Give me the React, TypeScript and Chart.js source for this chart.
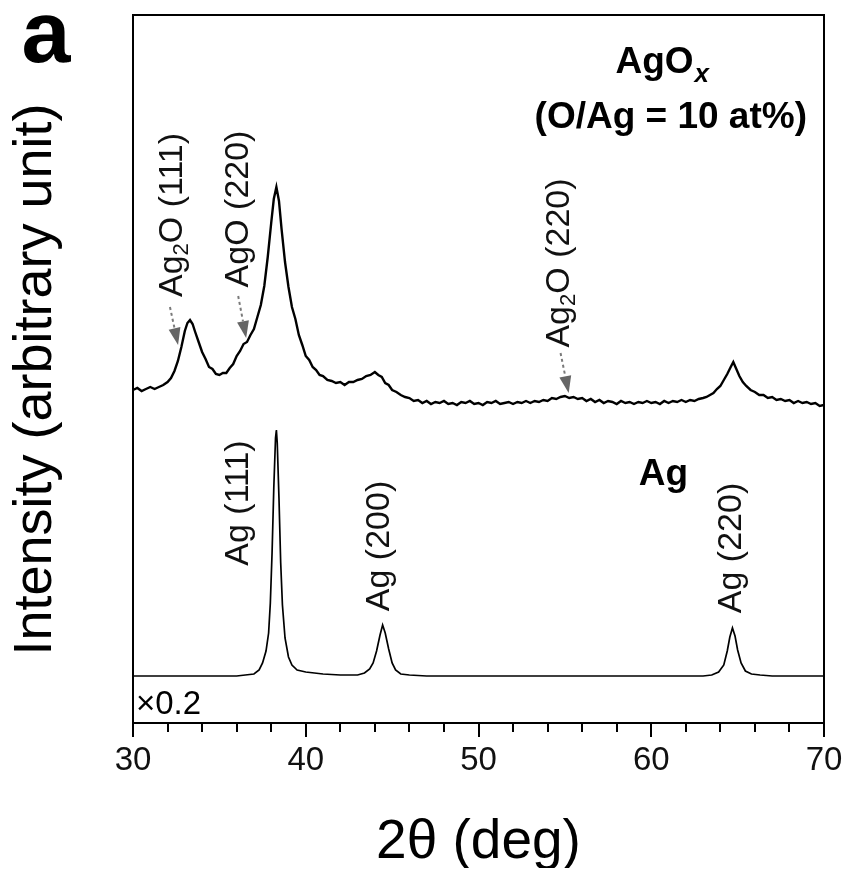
import React, { useEffect, useRef } from 'react';
import { Chart, registerables } from 'chart.js';

Chart.register(...registerables);

const FONT = '"Liberation Sans", Arial, Helvetica, sans-serif';

// ---- Data (2θ in degrees, intensity in arbitrary units, stacked offsets) ----
const agoxTheta = [
  30.0, 30.25, 30.5, 30.75, 31.0, 31.25, 31.5, 31.75, 32.0, 32.2,
  32.4, 32.6, 32.8, 33.0, 33.15, 33.3, 33.45, 33.6, 33.8, 34.0,
  34.2, 34.4, 34.6, 34.8, 35.0, 35.2, 35.4, 35.6, 35.8, 36.0,
  36.2, 36.4, 36.6, 36.8, 37.0, 37.2, 37.4, 37.6, 37.8, 38.0,
  38.15, 38.3, 38.45, 38.6, 38.8, 39.0, 39.2, 39.4, 39.6, 39.8,
  40.0, 40.2, 40.4, 40.6, 40.8, 41.0, 41.25, 41.5, 41.75, 42.0,
  42.25, 42.5, 42.75, 43.0, 43.25, 43.5, 43.75, 44.0, 44.2, 44.4,
  44.6, 44.8, 45.0, 45.25, 45.5, 45.75, 46.0, 46.25, 46.5, 46.75,
  47.0, 47.25, 47.5, 47.75, 48.0, 48.25, 48.5, 48.75, 49.0, 49.25,
  49.5, 49.75, 50.0, 50.25, 50.5, 50.75, 51.0, 51.25, 51.5, 51.75,
  52.0, 52.25, 52.5, 52.75, 53.0, 53.25, 53.5, 53.75, 54.0, 54.25,
  54.5, 54.75, 55.0, 55.25, 55.5, 55.75, 56.0, 56.25, 56.5, 56.75,
  57.0, 57.25, 57.5, 57.75, 58.0, 58.25, 58.5, 58.75, 59.0, 59.25,
  59.5, 59.75, 60.0, 60.25, 60.5, 60.75, 61.0, 61.25, 61.5, 61.75,
  62.0, 62.25, 62.5, 62.75, 63.0, 63.2, 63.4, 63.6, 63.8, 64.0,
  64.2, 64.4, 64.6, 64.75, 64.9, 65.1, 65.3, 65.5, 65.75, 66.0,
  66.25, 66.5, 66.75, 67.0, 67.25, 67.5, 67.75, 68.0, 68.25, 68.5,
  68.75, 69.0, 69.25, 69.5, 69.75, 70.0,
];
const agoxIntensity = [
  333, 335, 332, 334, 336, 334, 336, 338, 341, 345,
  352, 362, 376, 392, 400, 403, 399, 391, 381, 371,
  364, 356, 354, 349, 348, 350, 350, 355, 359, 367,
  372, 379, 381, 388, 394, 406, 418, 437, 466, 500,
  524, 536, 522, 494, 461, 436, 416, 404, 388, 378,
  367, 363, 356, 353, 348, 347, 343, 342, 340, 341,
  338, 341, 341, 343, 344, 347, 348, 351, 348, 346,
  340, 338, 333, 331, 328, 326, 325, 322, 323, 320,
  322, 319, 321, 320, 322, 319, 320, 318, 321, 320,
  322, 319, 320, 318, 321, 320, 322, 319, 320, 321,
  319, 321, 320, 322, 320, 322, 321, 323, 322, 325,
  324, 326, 327, 325, 326, 324, 325, 322, 324, 321,
  323, 320, 322, 321, 319, 322, 320, 321, 319, 321,
  320, 322, 320, 321, 319, 322, 320, 322, 321, 323,
  321, 323, 322, 324, 325, 326, 328, 330, 334, 337,
  343, 349, 356, 361, 355, 347, 341, 337, 333, 331,
  328, 328, 325, 326, 323, 324, 322, 323, 320, 322,
  320, 321, 319, 320, 317, 318,
];

const agTheta = [
  30.0, 32.0, 34.0, 36.0, 36.5, 37.0, 37.3, 37.5, 37.7, 37.85, 37.95, 38.05, 38.15, 38.25, 38.3,
  38.35, 38.45, 38.55, 38.65, 38.8, 39.0, 39.2, 39.5, 40.0, 41.0, 42.0, 43.0, 43.4, 43.7, 43.9,
  44.1, 44.3, 44.45, 44.6, 44.8, 45.0, 45.2, 45.5, 46.0, 47.0, 50.0, 55.0, 60.0, 63.0, 63.5,
  63.9, 64.2, 64.4, 64.55, 64.7, 64.85, 65.0, 65.2, 65.45, 65.8, 66.3, 67.0, 70.0,
];
const agIntensity = [
  47, 47, 47, 47, 48, 49, 53, 60, 72, 90, 120, 170, 235, 285, 293,
  280, 225, 160, 118, 85, 66, 58, 53, 51, 49, 48, 48, 50, 54, 60,
  72, 88, 98, 90, 74, 60, 53, 49, 48, 47, 47, 47, 47, 47, 48,
  51, 58, 72, 86, 95, 87, 73, 60, 52, 49, 48, 47, 47,
];

const xMin = 30;
const xMax = 70;
const xMajorStep = 10;
const xMinorStep = 2;

const xTitle = '2θ (deg)';
const yTitle = 'Intensity (arbitrary unit)';

// ---- Annotations (positioned in data coordinates) ----
type Part = { t: string; sub?: boolean };
const peakLabels: { parts: Part[]; x: number; y: number }[] = [
  { parts: [{ t: 'Ag' }, { t: '2', sub: true }, { t: 'O (111)' }], x: 32.29, y: 508 },
  { parts: [{ t: 'AgO (220)' }], x: 36.09, y: 514 },
  { parts: [{ t: 'Ag' }, { t: '2', sub: true }, { t: 'O (220)' }], x: 54.67, y: 460 },
  { parts: [{ t: 'Ag (111)' }], x: 36.12, y: 220 },
  { parts: [{ t: 'Ag (200)' }], x: 44.26, y: 177 },
  { parts: [{ t: 'Ag (220)' }], x: 64.67, y: 175 },
];
const arrows = [
  { x1: 32.14, y1: 416, x2: 32.61, y2: 378 },
  { x1: 36.09, y1: 427, x2: 36.55, y2: 385 },
  { x1: 54.75, y1: 370, x2: 55.22, y2: 330 },
];

function drawRotated(ctx: CanvasRenderingContext2D, parts: Part[], cx: number, cy: number, size: number) {
  ctx.save();
  ctx.translate(cx, cy);
  ctx.rotate(-Math.PI / 2);
  ctx.textBaseline = 'middle';
  ctx.textAlign = 'left';
  const sub = size * 0.65;
  const widths = parts.map((p) => {
    ctx.font = `${p.sub ? sub : size}px ${FONT}`;
    return ctx.measureText(p.t).width;
  });
  const total = widths.reduce((s, w) => s + w, 0);
  let xx = -total / 2;
  parts.forEach((p, i) => {
    ctx.font = `${p.sub ? sub : size}px ${FONT}`;
    ctx.fillText(p.t, xx, p.sub ? size * 0.28 : 0);
    xx += widths[i];
  });
  ctx.restore();
}

function drawArrow(ctx: CanvasRenderingContext2D, x1: number, y1: number, x2: number, y2: number) {
  const ang = Math.atan2(y2 - y1, x2 - x1);
  const headLen = 17;
  const headW = 6;
  const bx = x2 - headLen * Math.cos(ang);
  const by = y2 - headLen * Math.sin(ang);
  ctx.save();
  ctx.strokeStyle = '#7a7a7a';
  ctx.lineWidth = 2;
  ctx.setLineDash([3, 3]);
  ctx.beginPath();
  ctx.moveTo(x1, y1);
  ctx.lineTo(bx, by);
  ctx.stroke();
  ctx.setLineDash([]);
  ctx.fillStyle = '#666666';
  ctx.beginPath();
  ctx.moveTo(x2, y2);
  ctx.lineTo(bx + headW * Math.sin(ang), by - headW * Math.cos(ang));
  ctx.lineTo(bx - headW * Math.sin(ang), by + headW * Math.cos(ang));
  ctx.closePath();
  ctx.fill();
  ctx.restore();
}

const decorations = {
  id: 'decorations',
  afterDraw(chart: any) {
    const { ctx, chartArea: a, scales } = chart;
    const x = scales.x;
    const y = scales.y;
    ctx.save();
    ctx.fillStyle = '#000';
    ctx.strokeStyle = '#000';

    // frame
    ctx.lineWidth = 2;
    ctx.strokeRect(a.left, a.top, a.right - a.left, a.bottom - a.top);

    // outward ticks (major + minor)
    for (let v = x.min; v <= x.max + 1e-9; v += xMinorStep) {
      const px = Math.round(x.getPixelForValue(v));
      const major = Math.abs(v % xMajorStep) < 1e-9;
      ctx.beginPath();
      ctx.moveTo(px, a.bottom);
      ctx.lineTo(px, a.bottom + (major ? 14 : 9));
      ctx.stroke();
    }

    // tick labels, taken from the scale's own ticks
    ctx.fillStyle = '#111';
    ctx.font = `33px ${FONT}`;
    ctx.textAlign = 'center';
    ctx.textBaseline = 'middle';
    x.ticks.forEach((t: any) => {
      ctx.fillText(String(t.value), x.getPixelForValue(t.value), a.bottom + 38);
    });

    // y title
    ctx.fillStyle = '#000';
    ctx.save();
    ctx.translate(a.left - 97, (a.top + a.bottom) / 2 + 10.5);
    ctx.rotate(-Math.PI / 2);
    ctx.textAlign = 'center';
    ctx.textBaseline = 'middle';
    ctx.font = `54px ${FONT}`;
    ctx.fillText(yTitle, 0, 0);
    ctx.restore();

    // panel letter
    ctx.textAlign = 'center';
    ctx.textBaseline = 'alphabetic';
    ctx.font = `bold 88px ${FONT}`;
    ctx.fillText('a', a.left - 87, a.top + 47);

    // peak labels
    ctx.fillStyle = '#111';
    peakLabels.forEach((l) => drawRotated(ctx, l.parts, x.getPixelForValue(l.x), y.getPixelForValue(l.y), 34));

    // arrows
    arrows.forEach((ar) =>
      drawArrow(ctx, x.getPixelForValue(ar.x1), y.getPixelForValue(ar.y1), x.getPixelForValue(ar.x2), y.getPixelForValue(ar.y2))
    );

    // sample names
    ctx.fillStyle = '#000';
    ctx.textBaseline = 'alphabetic';
    {
      ctx.font = `bold 37px ${FONT}`;
      const w1 = ctx.measureText('AgO').width;
      ctx.font = `italic bold 26px ${FONT}`;
      const w2 = ctx.measureText('x').width;
      const cx = x.getPixelForValue(60.61);
      const by = y.getPixelForValue(650);
      const left = cx - (w1 + w2) / 2;
      ctx.textAlign = 'left';
      ctx.font = `bold 37px ${FONT}`;
      ctx.fillText('AgO', left, by);
      ctx.font = `italic bold 26px ${FONT}`;
      ctx.fillText('x', left + w1 + 1, by + 9);
    }
    ctx.textAlign = 'center';
    ctx.font = `bold 37px ${FONT}`;
    ctx.fillText('(O/Ag = 10 at%)', x.getPixelForValue(61.13), y.getPixelForValue(595));
    ctx.fillText('Ag', x.getPixelForValue(60.7), y.getPixelForValue(238));

    // scale factor note
    ctx.textAlign = 'left';
    ctx.font = `33px ${FONT}`;
    ctx.fillText('×0.2', x.getPixelForValue(30.17), y.getPixelForValue(9));

    ctx.restore();
  },
};

export default function App() {
  const ref = useRef<HTMLCanvasElement | null>(null);

  useEffect(() => {
    if (!ref.current) return;
    const chart = new Chart(ref.current, {
      type: 'line',
      data: {
        datasets: [
          {
            label: 'AgOx',
            data: agoxTheta.map((t, i) => ({ x: t, y: agoxIntensity[i] })),
            borderColor: '#000',
            borderWidth: 2.4,
            pointRadius: 0,
            tension: 0,
          },
          {
            label: 'Ag',
            data: agTheta.map((t, i) => ({ x: t, y: agIntensity[i] })),
            borderColor: '#000',
            borderWidth: 1.7,
            pointRadius: 0,
            tension: 0,
          },
        ],
      },
      options: {
        responsive: false,
        animation: false,
        devicePixelRatio: 1,
        layout: { padding: { left: 125, right: 20, top: 7, bottom: 0 } },
        plugins: { legend: { display: false }, tooltip: { enabled: false } },
        scales: {
          x: {
            type: 'linear',
            min: xMin,
            max: xMax,
            grid: { display: false, drawTicks: false },
            border: { display: false },
            ticks: {
              stepSize: xMajorStep,
              display: false,
              font: { family: FONT, size: 33 },
            },
            title: {
              display: true,
              text: xTitle,
              color: '#000',
              padding: 0,
              font: { family: FONT, size: 55, lineHeight: 0.9 },
            },
            afterFit: (s: any) => {
              s.height = 145;
              s.paddingLeft = 0;
              s.paddingRight = 0;
            },
          },
          y: {
            display: false,
            min: 0,
            max: 708,
          },
        },
      },
      plugins: [decorations],
    });
    return () => chart.destroy();
  }, []);

  return (
    <div style={{ height: 860 }}>
      <div style={{ position: 'fixed', left: 8, top: 8, width: 836, height: 860 }}>
        <canvas ref={ref} width={836} height={860} style={{ display: 'block' }} />
      </div>
    </div>
  );
}
